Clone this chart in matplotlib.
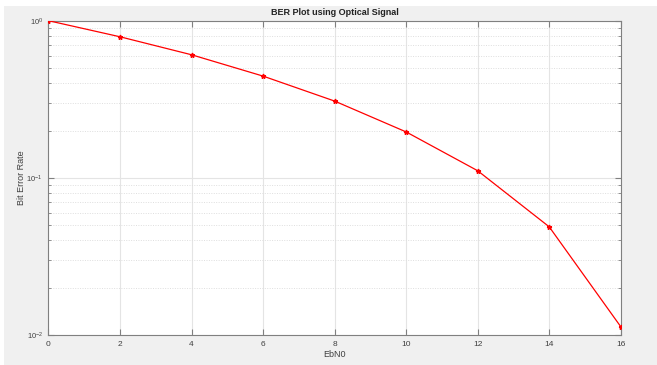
import matplotlib
matplotlib.use("Agg")
import matplotlib.pyplot as plt
from matplotlib.patches import Rectangle
from matplotlib.ticker import LogLocator, NullFormatter

plt.rcParams['font.family'] = ['Liberation Sans', 'DejaVu Sans']
plt.rcParams['mathtext.fontset'] = 'custom'
plt.rcParams['mathtext.rm'] = 'Liberation Sans'

ebn0 = [0, 2, 4, 6, 8, 10, 12, 14, 16]
ber = [1.0, 0.79, 0.607, 0.444, 0.308, 0.196, 0.111, 0.0488, 0.0113]
xticks = [0, 2, 4, 6, 8, 10, 12, 14, 16]

fig = plt.figure(figsize=(6.57, 3.65), dpi=100, facecolor='#f0f0f0')
fig.patches.append(Rectangle((0, 1 - 6/365), 1, 6/365, transform=fig.transFigure,
                             facecolor='white', edgecolor='none', zorder=-1))
fig.patches.append(Rectangle((0, 0), 4/657, 1, transform=fig.transFigure,
                             facecolor='white', edgecolor='none', zorder=-1))

ax = fig.add_axes([0.0738, 0.0822, 0.871, 0.8611])
ax.set_facecolor('white')
ax.plot(ebn0, ber, color='#ff0000', linewidth=0.9, marker='*', markersize=3.5, zorder=3)
ax.set_yscale('log')
ax.set_xlim(0, 16)
ax.set_ylim(1e-2, 1)
ax.set_xticks(xticks)
ax.set_xticklabels([str(v) for v in xticks])
ax.yaxis.set_minor_locator(LogLocator(base=10, subs=range(2, 10)))
ax.yaxis.set_minor_formatter(NullFormatter())

ax.grid(True, which='major', color='#e4e4e4', linewidth=0.8, linestyle='-')
ax.grid(True, which='minor', axis='y', color='#dedede', linewidth=0.7, linestyle=(0, (1, 1.5)))
ax.set_axisbelow(True)

for s in ax.spines.values():
    s.set_color('#808080')
    s.set_linewidth(0.8)
ax.tick_params(which='both', direction='in', top=True, right=True, colors='#808080',
               labelcolor='#404040', labelsize=6)
ax.tick_params(which='major', length=4, pad=4)
ax.tick_params(axis='y', which='major', labelsize=5.5, pad=4)
ax.tick_params(which='minor', length=2)

ax.set_title('BER Plot using Optical Signal', fontsize=6.5, fontweight='bold', pad=4, color='#222222')
ax.set_xlabel('EbN0', fontsize=6.5, color='#404040')
ax.set_ylabel('Bit Error Rate', fontsize=6.5, color='#404040')
ax.yaxis.set_label_coords(-0.04, 0.5)
ax.xaxis.set_label_coords(0.5, -0.048)

fig.savefig('out.png', dpi=100, facecolor=fig.get_facecolor())
